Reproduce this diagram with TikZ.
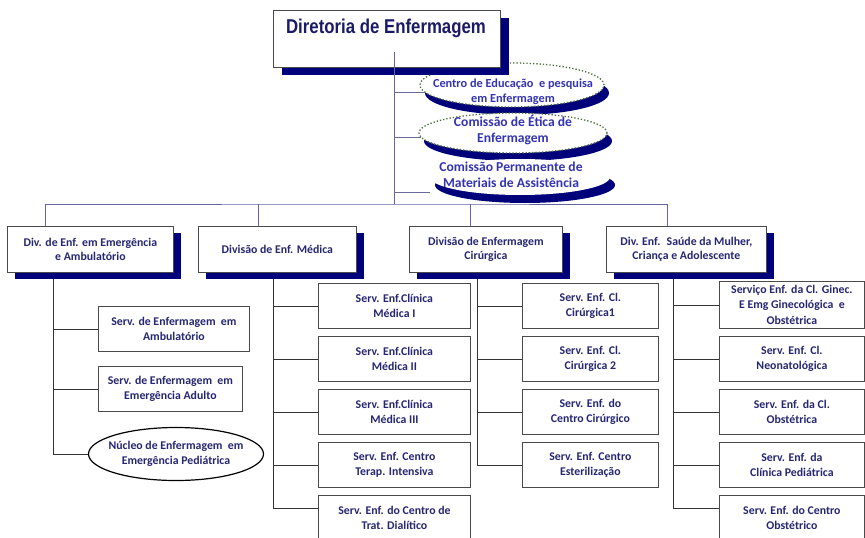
\documentclass[tikz,border=0pt]{standalone}
\usepackage{fontspec}
\setmainfont{Carlito}
\newfontfamily\dirfont[FakeStretch=0.84]{Liberation Sans}
\usetikzlibrary{shapes.geometric,shadows,calc}
\definecolor{navysh}{HTML}{00007A}
\definecolor{txtnavy}{HTML}{262673}
\definecolor{dirnavy}{HTML}{1A1A66}
\definecolor{txtblue}{HTML}{3434B2}
\definecolor{boxgray}{HTML}{4A4A4A}
\definecolor{busc}{HTML}{6464A0}
\definecolor{dotgreen}{HTML}{4E6E3E}
\begin{document}
\begin{tikzpicture}[x=1pt,y=-1pt,
  basebox/.style={draw=boxgray, line width=0.8pt, fill=white, rectangle, anchor=north west,
    align=center, text=txtnavy, inner sep=2pt,
    font=\fontsize{11.8}{14.5}\selectfont\bfseries},
  dirbox/.style={basebox, drop shadow={shadow xshift=9pt, shadow yshift=-8pt, fill=navysh, opacity=1}},
  divbox/.style={basebox, minimum height=46pt, drop shadow={shadow xshift=8pt, shadow yshift=-7pt, fill=navysh, opacity=1}},
  subbox/.style={basebox, minimum height=45pt},
  ellshape/.style={ellipse, fill=white, inner sep=0pt,
    drop shadow={shadow xshift=5pt, shadow yshift=-8pt, fill=navysh, opacity=1}},
  dotell/.style={ellshape, draw=dotgreen, dotted, line width=1.3pt},
  elltext/.style={align=center, text=txtblue, inner sep=0pt},
  busline/.style={draw=busc, line width=0.9pt},
  topline/.style={draw=busc!80!gray, line width=0.9pt},
  subline/.style={draw=black!80, line width=0.8pt},
]
\useasboundingbox (0,0) rectangle (865,538);

% ellipses of the staff bodies
\node[dotell, minimum width=184pt, minimum height=44pt] (e1) at (512,85) {};
\node[elltext, font=\fontsize{12.3}{15}\selectfont\bfseries] (e1t) at (513,92) {Centro de Educação \ e pesquisa\\em Enfermagem};
\node[dotell, minimum width=188pt, minimum height=40pt] (e2) at (513,133) {};
\node[elltext, font=\fontsize{13.6}{16}\selectfont\bfseries] (e2t) at (513,130) {Comissão de Ética de\\Enfermagem};
\node[ellshape, minimum width=180pt, minimum height=36pt, shadow xshift=4pt] (e3) at (520,177) {};
\node[elltext, font=\fontsize{13.6}{16}\selectfont\bfseries] (e3t) at (511,175) {Comissão Permanente de\\Materiais de Assistência};

% direction box
\node[dirbox, minimum width=227pt, minimum height=57pt] (dir) at (273,10) {};
\node[text=dirnavy, font=\dirfont\bfseries\fontsize{20}{22}\selectfont, inner sep=0pt] (dirt) at (386,28) {Diretoria de Enfermagem};

% divisions
\node[divbox, minimum width=166pt] (d1) at (7,226) {Div. de Enf. em Emergência\\e Ambulatório};
\node[divbox, minimum width=158pt] (d2) at (198,226) {Divisão de Enf. Médica};
\node[divbox, minimum width=153pt] (d3) at (409,226) {Divisão de Enfermagem\\Cirúrgica};
\node[divbox, minimum width=160pt] (d4) at (606,226) {Div. Enf. \ Saúde da Mulher,\\Criança e Adolescente};

% services column 1
\node[subbox, minimum width=151pt] (s11) at (98,306) {Serv. de Enfermagem \ em\\Ambulatório};
\node[subbox, minimum width=144pt] (s12) at (98,366) {Serv. de Enfermagem \ em\\Emergência Adulto};
\node[ellipse, draw=black, line width=1.2pt, fill=white, minimum width=175pt, minimum height=53pt,
      inner xsep=-12pt, inner ysep=-3pt,
      align=center, text=txtnavy, font=\fontsize{11.8}{14.5}\selectfont\bfseries] (s13) at (176,454) {Núcleo de Enfermagem \ em\\Emergência Pediátrica};

% services column 2
\node[subbox, minimum width=152pt] (s21) at (318,283) {Serv. Enf.Clínica\\Médica I};
\node[subbox, minimum width=152pt] (s22) at (318,336) {Serv. Enf.Clínica\\Médica II};
\node[subbox, minimum width=152pt] (s23) at (318,389) {Serv. Enf.Clínica\\Médica III};
\node[subbox, minimum width=152pt] (s24) at (318,442) {Serv. Enf. Centro\\Terap. Intensiva};
\node[subbox, minimum width=152pt] (s25) at (318,495) {Serv. Enf. do Centro de\\Trat. Dialítico};

% services column 3
\node[subbox, minimum width=136pt] (s31) at (522,283) {Serv. Enf. Cl.\\Cirúrgica1};
\node[subbox, minimum width=136pt] (s32) at (522,336) {Serv. Enf. Cl.\\Cirúrgica 2};
\node[subbox, minimum width=136pt] (s33) at (522,389) {Serv. Enf. do\\Centro Cirúrgico};
\node[subbox, minimum width=136pt] (s34) at (522,442) {Serv. Enf. Centro\\Esterilização};

% services column 4
\node[subbox, minimum width=145pt, minimum height=47pt, font=\fontsize{11.8}{15.5}\selectfont\bfseries] (s41) at (719,281) {Serviço Enf. da Cl. Ginec.\\E Emg Ginecológica \ e\\Obstétrica};
\node[subbox, minimum width=145pt] (s42) at (719,336) {Serv. Enf. Cl.\\Neonatológica};
\node[subbox, minimum width=145pt] (s43) at (719,389) {Serv. Enf. da Cl.\\Obstétrica};
\node[subbox, minimum width=145pt] (s44) at (719,442) {Serv. Enf. da\\Clínica Pediátrica};
\node[subbox, minimum width=145pt] (s45) at (719,495) {Serv. Enf. do Centro\\Obstétrico};

% coordinates
\coordinate (dirl) at (394,52);
\coordinate (bus) at (394,204);
\coordinate (t1) at (45,226);
\coordinate (t2) at (258,226);
\coordinate (t3) at (470,226);
\coordinate (t4) at (667,226);
\coordinate (c3) at (430,192);
\coordinate (v1) at (53,279);
\coordinate (v2) at (273,279);
\coordinate (v3) at (477,279);
\coordinate (v4) at (673,279);
\coordinate (h25) at (318,508);
\coordinate (h45) at (719,508);

% top connectors
\draw[busline] (dirl) -- (bus);
\draw[topline] (dirl |- e1.185) -- (e1.185);
\draw[topline] (dirl |- e2.183) -- (e2.183);
\draw[topline] (dirl |- c3) -- (c3);
\draw[busline] (t1) |- (bus) -| (t4);
\draw[busline] (t2) -- (t2 |- bus);
\draw[busline] (t3) -- (t3 |- bus);

% column connectors
\draw[subline] (v1) |- (s13.west);
\draw[subline] (v1 |- s11.west) -- (s11.west);
\draw[subline] (v1 |- s12.west) -- (s12.west);

\draw[subline] (v2) |- (h25);
\foreach \n in {s21,s22,s23,s24} \draw[subline] (v2 |- \n.west) -- (\n.west);

\draw[subline] (v3) |- (s34.west);
\foreach \n in {s31,s32,s33} \draw[subline] (v3 |- \n.west) -- (\n.west);

\draw[subline] (v4) |- (h45);
\foreach \n in {s41,s42,s43,s44} \draw[subline] (v4 |- \n.west) -- (\n.west);
\end{tikzpicture}
\end{document}
